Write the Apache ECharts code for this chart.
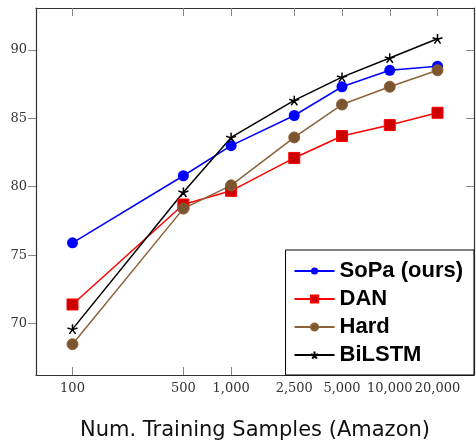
<!DOCTYPE html>
<html>
<head>
    <meta charset="utf-8">
    <title>Amazon training samples</title>
    <script type="text/javascript" src="https://cdn.jsdelivr.net/npm/echarts@6/dist/echarts.min.js"></script>
    <style>
        html, body { margin: 0; padding: 0; background: #fff; }
    </style>
</head>
<body>
    <div id="main" style="width: 476px;height:441px;"></div>
<script>
    // 训练样本数 (x)
    var samples = [100, 500, 1000, 2500, 5000, 10000, 20000];
    // 各模型准确率
    var sopa = [75.9, 80.8, 83.0, 85.2, 87.3, 88.5, 88.8];
    var dan = [71.4, 78.7, 79.7, 82.1, 83.7, 84.5, 85.4];
    var hard = [68.5, 78.4, 80.1, 83.6, 86.0, 87.3, 88.5];
    var bilstm = [69.6, 79.6, 83.6, 86.3, 88.0, 89.4, 90.8];
    var yTicks = [70, 75, 80, 85, 90];

    var chart = echarts.init(document.getElementById('main'));

    // x轴为对数刻度：用 log10 后的值画在数值轴上
    function lg(v) { return Math.log10(v); }
    function pairs(ys) {
        var d = [];
        for (var i = 0; i < samples.length; i++) {
            d.push([lg(samples[i]), ys[i]]);
        }
        return d;
    }
    var xTicks = samples.map(lg);
    var xMin = 1.7699, xMax = 4.5311;
    var yMin = 66.25, yMax = 93.05;

    var star = 'path://M0,0L0,-10M0,0L9.5,-3.1M0,0L5.9,8.1M0,0L-5.9,8.1M0,0L-9.5,-3.1';
    var tickFont = { fontFamily: 'DejaVu Serif', fontSize: 13, color: '#333' };

    function xAxis(pos, show) {
        return {
            type: 'value', position: pos, min: xMin, max: xMax,
            axisLine: { show: true, lineStyle: { color: '#333', width: 1.2 } },
            axisTick: { show: true, inside: true, length: 8, customValues: xTicks, lineStyle: { color: '#888' } },
            axisLabel: {
                show: show, margin: 7, customValues: xTicks,
                formatter: function (v) { return Math.round(Math.pow(10, v)).toLocaleString('en-US'); },
                fontFamily: tickFont.fontFamily, fontSize: tickFont.fontSize, color: tickFont.color
            },
            splitLine: { show: false }
        };
    }
    function yAxis(pos, show) {
        return {
            type: 'value', position: pos, min: yMin, max: yMax,
            axisLine: { show: true, lineStyle: { color: '#333', width: 1.2 } },
            axisTick: { show: true, inside: !show, length: 8, customValues: yTicks, lineStyle: { color: '#888' } },
            axisLabel: {
                show: show, margin: 9, customValues: yTicks,
                fontFamily: tickFont.fontFamily, fontSize: tickFont.fontSize, color: tickFont.color
            },
            splitLine: { show: false }
        };
    }

    var bottomAxis = xAxis('bottom', true);
    bottomAxis.name = 'Num. Training Samples (Amazon)';
    bottomAxis.nameLocation = 'middle';
    bottomAxis.nameGap = 45;
    bottomAxis.nameTextStyle = { fontFamily: 'DejaVu Sans', fontSize: 21, color: '#111' };

    var option = {
        backgroundColor: '#fff',
        animation: false,
        grid: { left: 36, right: 2, top: 8, bottom: 66, outerBoundsMode: 'none', containLabel: false },
        xAxis: [bottomAxis, xAxis('top', false)],
        yAxis: [yAxis('left', true), yAxis('right', false)],
        legend: {
            right: 2, bottom: 66,
            orient: 'vertical', align: 'left',
            itemWidth: 40, itemHeight: 9, itemGap: 6,
            padding: [10, 11, 9, 8],
            backgroundColor: '#fff', borderColor: '#000', borderWidth: 1, borderRadius: 0,
            textStyle: { fontFamily: 'Liberation Sans', fontWeight: 'bold', fontSize: 22, lineHeight: 20, color: '#000' },
            data: ['SoPa (ours)', 'DAN', 'Hard', 'BiLSTM']
        },
        series: [
            {
                name: 'SoPa (ours)', type: 'line', data: pairs(sopa),
                symbol: 'circle', symbolSize: 11,
                lineStyle: { color: '#0000ff', width: 1.5 },
                itemStyle: { color: '#0000ff' }
            },
            {
                name: 'DAN', type: 'line', data: pairs(dan),
                symbol: 'rect', symbolSize: 11,
                lineStyle: { color: '#ff0000', width: 1.5 },
                itemStyle: { color: '#cc0000', borderColor: '#ff0000', borderWidth: 1 }
            },
            {
                name: 'Hard', type: 'line', data: pairs(hard),
                symbol: 'circle', symbolSize: 11,
                lineStyle: { color: '#8c6239', width: 1.5 },
                itemStyle: { color: '#7b5430', borderColor: '#8c6239', borderWidth: 1 }
            },
            {
                name: 'BiLSTM', type: 'line', data: pairs(bilstm),
                symbol: star, symbolSize: 10, symbolKeepAspect: true,
                lineStyle: { color: '#000', width: 1.5 },
                itemStyle: { color: 'none', borderColor: '#000', borderWidth: 1.5 }
            }
        ]
    };
    chart.setOption(option);
</script>
</body>
</html>
